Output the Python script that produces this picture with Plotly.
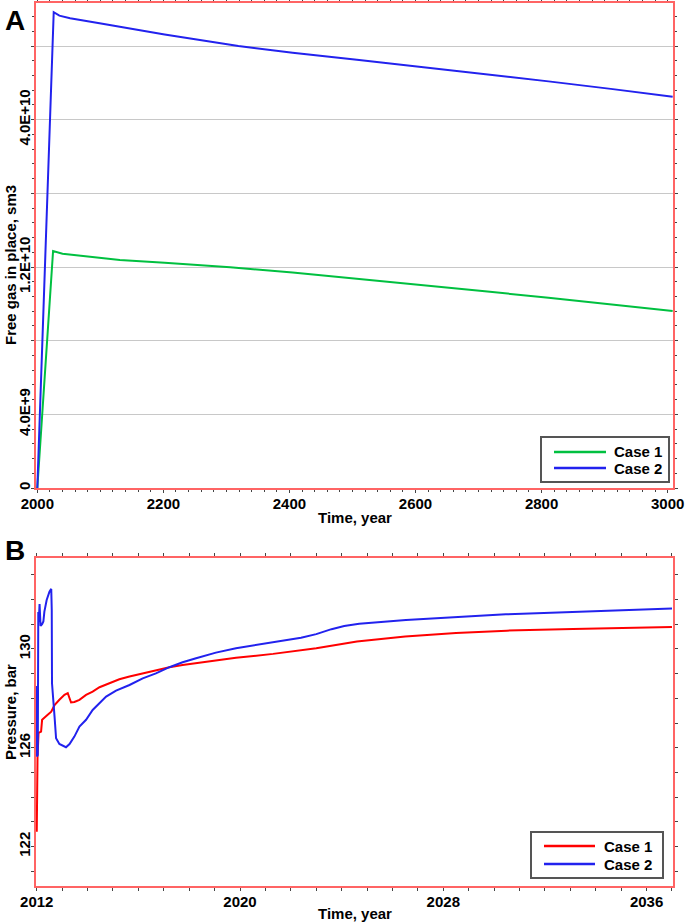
import plotly.graph_objects as go

# ---------------- Panel A data: free gas in place (sm3) ----------------
a_time_case1 = [2000, 2025, 2040, 2081, 2131, 2202, 2306, 2405, 2507, 2608, 2710, 2811, 2913, 3008]
a_gas_case1 = [0, 1.287e10, 1.272e10, 1.257e10, 1.238e10, 1.223e10, 1.199e10, 1.170e10, 1.137e10,
               1.103e10, 1.068e10, 1.033e10, 0.997e10, 0.961e10]
a_time_case2 = [2000, 2026, 2035, 2052, 2101, 2202, 2319, 2405, 2507, 2608, 2710, 2811, 2913, 3008]
a_gas_case2 = [0, 2.584e10, 2.565e10, 2.551e10, 2.522e10, 2.462e10, 2.400e10, 2.364e10, 2.326e10,
               2.288e10, 2.249e10, 2.208e10, 2.166e10, 2.124e10]
a_ytickvals = [0, 4e9, 8e9, 1.2e10, 1.6e10, 2.0e10, 2.4e10]
a_yticktext = ["0", "4.0E+9", "", "1.2E+10", "", "4.0E+10", ""]
a_xtickvals = [2000, 2200, 2400, 2600, 2800, 3000]

# ---------------- Panel B data: pressure (bar) ----------------
b_time_case1 = [2012.0, 2012.03, 2012.07, 2012.17, 2012.21, 2012.30, 2012.43, 2012.57, 2012.70,
                2012.89, 2013.09, 2013.22, 2013.35, 2013.48, 2013.68, 2013.94, 2014.20, 2014.47,
                2014.86, 2015.25, 2015.65, 2016.17, 2016.69, 2017.22, 2017.74, 2018.27, 2019.05,
                2019.84, 2021.3, 2023.0, 2024.6, 2026.5, 2028.5, 2030.5, 2033.1, 2035.0, 2037.0]
b_pres_case1 = [122.6, 125.6, 126.6, 126.65, 127.13, 127.2, 127.33, 127.46, 127.73,
                127.94, 128.14, 128.21, 127.83, 127.85, 127.94, 128.14, 128.27, 128.45,
                128.61, 128.77, 128.88, 129.01, 129.15, 129.26, 129.35, 129.42, 129.53,
                129.64, 129.80, 130.03, 130.30, 130.50, 130.64, 130.74, 130.81, 130.84, 130.89]
b_time_case2 = [2012.0, 2012.01, 2012.04, 2012.06, 2012.08, 2012.11, 2012.15, 2012.21, 2012.26,
                2012.30, 2012.39, 2012.50, 2012.57, 2012.59, 2012.60, 2012.70, 2012.76, 2012.89,
                2013.02, 2013.15, 2013.29, 2013.48, 2013.68, 2013.94, 2014.20, 2014.47, 2014.73,
                2015.12, 2015.65, 2016.17, 2016.69, 2017.22, 2017.74, 2018.27, 2019.05, 2019.84,
                2021.29, 2022.4, 2023.0, 2023.6, 2024.1, 2024.69, 2026.53, 2028.49, 2030.46,
                2033.08, 2035.04, 2037.0]
b_pres_case2 = [128.5, 125.64, 125.7, 131.5, 131.1, 131.82, 130.93, 131.0, 131.11,
                131.51, 131.98, 132.32, 132.43, 131.58, 128.61, 127.26, 126.38, 126.15,
                126.09, 126.02, 126.15, 126.45, 126.86, 127.13, 127.53, 127.80, 128.07,
                128.31, 128.54, 128.81, 129.01, 129.26, 129.46, 129.62, 129.85, 130.03,
                130.26, 130.45, 130.60, 130.80, 130.93, 131.02, 131.17, 131.28, 131.40,
                131.50, 131.58, 131.64]
b_ytickvals = [122, 126, 130]
b_xtickvals = [2012, 2020, 2028, 2036]
series_names = ["Case 1", "Case 2"]

W, H = 685, 922
def px_x(p): return p / W
def px_y(p): return 1 - p / H

FONT = "Liberation Sans, Arial, sans-serif"
RED_FRAME = "#ff6464"
TICKC = "#444444"
GREEN, BLUE, RED = "#00c040", "#2222ee", "#ff0000"

fig = go.Figure()
fig.add_trace(go.Scatter(x=a_time_case1, y=a_gas_case1, mode="lines", name=series_names[0],
                         line=dict(color=GREEN, width=2), xaxis="x", yaxis="y"))
fig.add_trace(go.Scatter(x=a_time_case2, y=a_gas_case2, mode="lines", name=series_names[1],
                         line=dict(color=BLUE, width=2), xaxis="x", yaxis="y"))
fig.add_trace(go.Scatter(x=b_time_case1, y=b_pres_case1, mode="lines", name=series_names[0],
                         line=dict(color=RED, width=2), xaxis="x2", yaxis="y2"))
fig.add_trace(go.Scatter(x=b_time_case2, y=b_pres_case2, mode="lines", name=series_names[1],
                         line=dict(color=BLUE, width=2), xaxis="x2", yaxis="y2"))

bold15 = dict(family=FONT, size=15, color="black", weight="bold")
common_axis = dict(showline=True, linecolor=RED_FRAME, linewidth=2, mirror="allticks",
                   ticks="outside", ticklen=3, tickwidth=1, tickcolor=TICKC,
                   tickfont=bold15, zeroline=False, automargin=False,
                   ticklabeloverflow="allow")

def title_ann(text, x, y, angle=0):
    return dict(text=text, x=px_x(x), y=px_y(y), xref="paper", yref="paper",
                xanchor="center", yanchor="middle", showarrow=False, textangle=angle,
                font=bold15)

shapes = []
annotations = []

def add_legend(box, rows, colors, line_x, text_x):
    x0, y0, x1, y1 = box
    shapes.append(dict(type="rect", xref="paper", yref="paper",
                       x0=px_x(x0), x1=px_x(x1), y0=px_y(y1), y1=px_y(y0),
                       line=dict(color="#555555", width=2), fillcolor="white", layer="above"))
    for name, ry, col in zip(series_names, rows, colors):
        shapes.append(dict(type="line", xref="paper", yref="paper",
                           x0=px_x(line_x[0]), x1=px_x(line_x[1]), y0=px_y(ry), y1=px_y(ry),
                           line=dict(color=col, width=2.5), layer="above"))
        annotations.append(dict(text=name, x=px_x(text_x), y=px_y(ry), xref="paper", yref="paper",
                                xanchor="left", yanchor="middle", showarrow=False, font=bold15))

add_legend((541, 437, 669, 482), (452, 468), (GREEN, BLUE), (554, 606), 612)
add_legend((531, 832, 663, 878), (846, 864), (RED, BLUE), (544, 595), 602)

annotations += [
    dict(text="A", x=px_x(3), y=px_y(3), xref="paper", yref="paper",
         xanchor="left", yanchor="top", showarrow=False,
         font=dict(family=FONT, size=28, color="black", weight="bold")),
    dict(text="B", x=px_x(3), y=px_y(533), xref="paper", yref="paper",
         xanchor="left", yanchor="top", showarrow=False,
         font=dict(family=FONT, size=28, color="black", weight="bold")),
    title_ann("Time, year", 355, 517),
    title_ann("Time, year", 355, 913),
    title_ann("Free gas in place, sm3", 10, 265, -90),
    title_ann("Pressure, bar", 10, 712, -90),
]

fig.update_layout(
    width=W, height=H, margin=dict(l=0, r=0, t=0, b=0, autoexpand=False),
    paper_bgcolor="white", plot_bgcolor="white",
    showlegend=False,
    xaxis=dict(domain=[px_x(36), px_x(673)], anchor="y", range=[1997.9, 3008.5],
               tickvals=a_xtickvals, showgrid=False, ticklabelstandoff=-2,
               minor=dict(dtick=20, ticklen=2, tickcolor=TICKC, ticks="outside"),
               **common_axis),
    yaxis=dict(domain=[px_y(488), px_y(3.3)], anchor="x", range=[0, 2.632e10],
               tickvals=a_ytickvals, ticktext=a_yticktext, tickangle=-90,
               showgrid=True, gridcolor="#c8c8c8", gridwidth=1, ticklabelstandoff=-5,
               minor=dict(dtick=8e8, ticklen=2, tickcolor=TICKC, ticks="outside", showgrid=False),
               **common_axis),
    xaxis2=dict(domain=[px_x(36), px_x(673)], anchor="y2", range=[2011.97, 2037.04],
                tickvals=b_xtickvals, showgrid=False, ticklabelstandoff=-2,
                minor=dict(dtick=1, ticklen=3, tickcolor=TICKC, ticks="outside"),
                **common_axis),
    yaxis2=dict(domain=[px_y(885.5), px_y(558.3)], anchor="x2", range=[120.42, 133.67],
                tickvals=b_ytickvals, tickangle=-90, showgrid=False, ticklabelstandoff=-5,
                minor=dict(dtick=1, ticklen=3, tickcolor=TICKC, ticks="outside"),
                **common_axis),
    shapes=shapes,
    annotations=annotations,
)

fig.write_html("out.html", config={"displayModeBar": False},
               post_script="document.body.style.margin='0px';document.body.style.overflow='hidden';")
